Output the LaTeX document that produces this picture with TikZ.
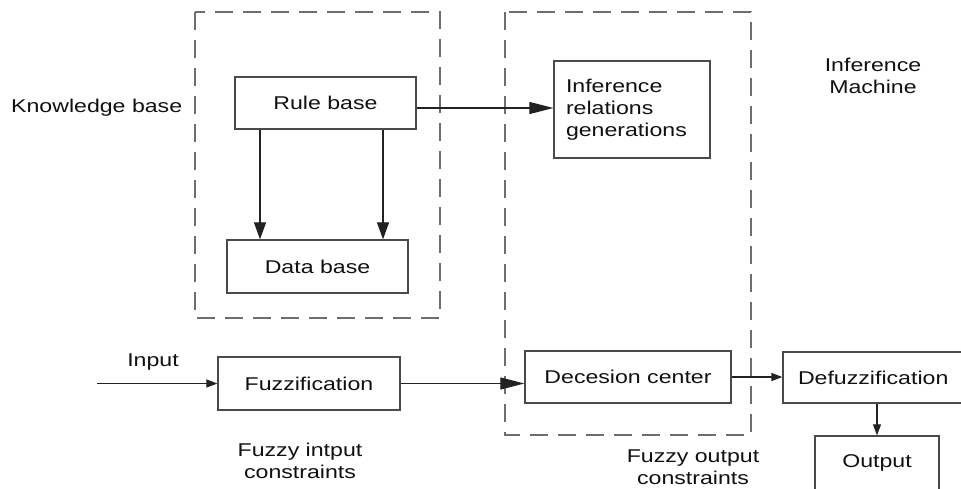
\documentclass[tikz,border=0pt]{standalone}
\usepackage{fontspec}
\setmainfont{Liberation Sans}[FakeStretch=1.25]
\usetikzlibrary{arrows.meta}
\definecolor{boxgray}{HTML}{4A4A4A}
\definecolor{arrgray}{HTML}{222222}
\definecolor{grpgray}{HTML}{6E6E6E}
\definecolor{txtgray}{HTML}{111111}

\begin{document}
\begin{tikzpicture}[x=1pt,y=-1pt,
    every node/.style={font=\fontsize{18.5}{22}\selectfont,text=txtgray},
    blk/.style={draw=boxgray,line width=1.3pt,rectangle,inner sep=0pt},
    grp/.style={draw=grpgray,line width=1.3pt,dash pattern=on 18pt off 10pt},
    lbl/.style={align=center,inner sep=0pt},
    bigtip/.style={-{Triangle[length=17pt,width=12pt]},line width=1.2pt,draw=arrgray},
    midtip/.style={-{Triangle[length=24pt,width=12pt]},line width=1.2pt,draw=arrgray},
    smalltip/.style={-{Triangle[length=11pt,width=8pt]},line width=1.2pt,draw=arrgray}]
      \clip (0,0) rectangle (961,488);
      \fill[white] (0,0) rectangle (961,488);
      % groups
      \draw[grp] (195,12) rectangle (440,318);
      \draw[grp] (505,12) rectangle (751,435);
      % boxes
      \node[blk,minimum width=181pt,minimum height=52pt] (rule) at (325.5,103) {Rule base};
      \node[blk,minimum width=181pt,minimum height=53pt] (data) at (317.5,266.5) {Data base};
      \node[blk,minimum height=97pt,text width=132pt,inner xsep=12pt,align=left] (infer) at (632,109.5) {Inference\\relations\\generations};
      \node[blk,minimum width=182pt,minimum height=53pt] (fuzz) at (309,383.5) {Fuzzification};
      \node[blk,minimum width=206pt,minimum height=52pt] (dec) at (628,377) {Decesion center};
      \node[blk,minimum height=51pt,text width=162pt,inner xsep=15pt,align=left] (defuzz) at (879,377.5) {Defuzzification};
      \node[blk,minimum width=124pt,minimum height=54pt] (out) at (877,463) {Output};
      % labels
      \node[lbl,anchor=west] (kb) at (11,108) {Knowledge base};
      \node[lbl] (im) at (873,76) {Inference\\Machine};
      \node[lbl] (inp) at (153,362) {Input};
      \node[lbl] (fic) at (300,461) {Fuzzy intput\\constraints};
      \node[lbl] (foc) at (693,467) {Fuzzy output\\constraints};
      \coordinate (src) at (97,383.5);
      % connectors
      \draw[bigtip] (rule.south -| 260,0) -- (data.north -| 260,0);
      \draw[bigtip] (rule.south -| 383,0) -- (data.north -| 383,0);
      \draw[midtip] ([yshift=-5pt]rule.east) -- ([yshift=-5pt]rule.east -| infer.west);
      \draw[smalltip] (src) -- (fuzz.west);
      \draw[midtip] (fuzz.east) -- (fuzz.east -| dec.west);
      \draw[smalltip] (dec.east) -- (dec.east -| defuzz.west);
      \draw[smalltip] (defuzz.south -| out.north) -- (out.north);
\end{tikzpicture}
\end{document}
